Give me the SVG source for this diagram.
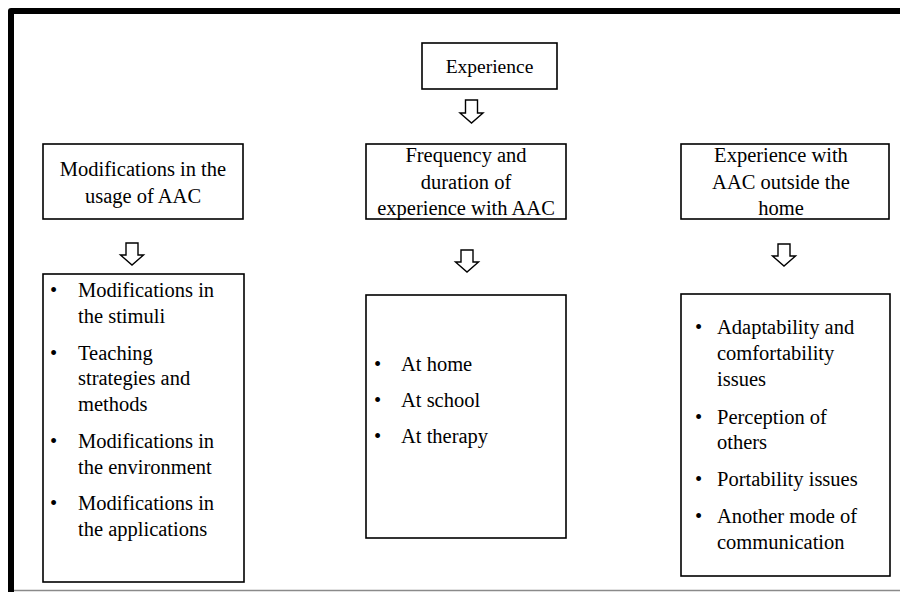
<svg xmlns="http://www.w3.org/2000/svg" width="900" height="592" viewBox="0 0 900 592">
<style>
.bg{fill:#fff}
.frame{fill:none;stroke:#000;stroke-width:6;stroke-linejoin:round}
.base{stroke:#8a8a8a;stroke-width:1.5}
.box{fill:#fff;stroke:#000;stroke-width:1.6}
.arrow{fill:#fff;stroke:#000;stroke-width:1.4;stroke-linejoin:miter}
text{font-family:"Liberation Serif","Times New Roman",serif;font-size:20.5px;fill:#000}
.c{text-anchor:middle}
</style>
<rect class="bg" x="0" y="0" width="900" height="592"/>
<path class="frame" d="M11,592 V11 H903"/>
<line class="base" x1="14" y1="590.5" x2="900" y2="590.5"/>

<g id="experience">
<rect class="box" x="422" y="43" width="135" height="46"/>
<text class="c" x="489.5" y="73" style="font-size:19.5px">Experience</text>
</g>

<g id="modifications-usage">
<rect class="box" x="43" y="144" width="200" height="75"/>
<text class="c" x="143" y="176">Modifications in the</text>
<text class="c" x="143" y="203">usage of AAC</text>
</g>

<g id="frequency-duration">
<rect class="box" x="366" y="144" width="200" height="75"/>
<text class="c" x="466" y="162">Frequency and</text>
<text class="c" x="466" y="189">duration of</text>
<text class="c" x="466" y="215">experience with AAC</text>
</g>

<g id="outside-home">
<rect class="box" x="681" y="144" width="208" height="75"/>
<text class="c" x="781" y="162">Experience with</text>
<text class="c" x="781" y="189">AAC outside the</text>
<text class="c" x="781" y="215">home</text>
</g>

<g id="modifications-list">
<rect class="box" x="43" y="274" width="201" height="308"/>
<text x="50" y="297">•</text><text x="78" y="297">Modifications in</text>
<text x="78" y="323">the stimuli</text>
<text x="50" y="360">•</text><text x="78" y="360">Teaching</text>
<text x="78" y="385">strategies and</text>
<text x="78" y="411">methods</text>
<text x="50" y="448">•</text><text x="78" y="448">Modifications in</text>
<text x="78" y="474">the environment</text>
<text x="50" y="510">•</text><text x="78" y="510">Modifications in</text>
<text x="78" y="536">the applications</text>
</g>

<g id="frequency-list">
<rect class="box" x="366" y="295" width="200" height="243"/>
<text x="374" y="371">•</text><text x="401" y="371">At home</text>
<text x="374" y="407">•</text><text x="401" y="407">At school</text>
<text x="374" y="443">•</text><text x="401" y="443">At therapy</text>
</g>

<g id="outside-list">
<rect class="box" x="681" y="294" width="209" height="282"/>
<text x="695" y="334">•</text><text x="717" y="334">Adaptability and</text>
<text x="717" y="360">comfortability</text>
<text x="717" y="386">issues</text>
<text x="695" y="424">•</text><text x="717" y="424">Perception of</text>
<text x="717" y="449">others</text>
<text x="695" y="486">•</text><text x="717" y="486">Portability issues</text>
<text x="695" y="523">•</text><text x="717" y="523">Another mode of</text>
<text x="717" y="549">communication</text>
</g>

<g id="connectors">
<path class="arrow" d="M465.5,100 h12 v13 h5.5 l-11.5,10 l-11.5,-10 h5.5 z"/>
<path class="arrow" d="M126,243 h12 v12 h5.5 l-11.5,10 l-11.5,-10 h5.5 z"/>
<path class="arrow" d="M461,250 h12 v12 h5.5 l-11.5,10 l-11.5,-10 h5.5 z"/>
<path class="arrow" d="M778,244 h12 v12 h5.5 l-11.5,10 l-11.5,-10 h5.5 z"/>
</g>
</svg>
